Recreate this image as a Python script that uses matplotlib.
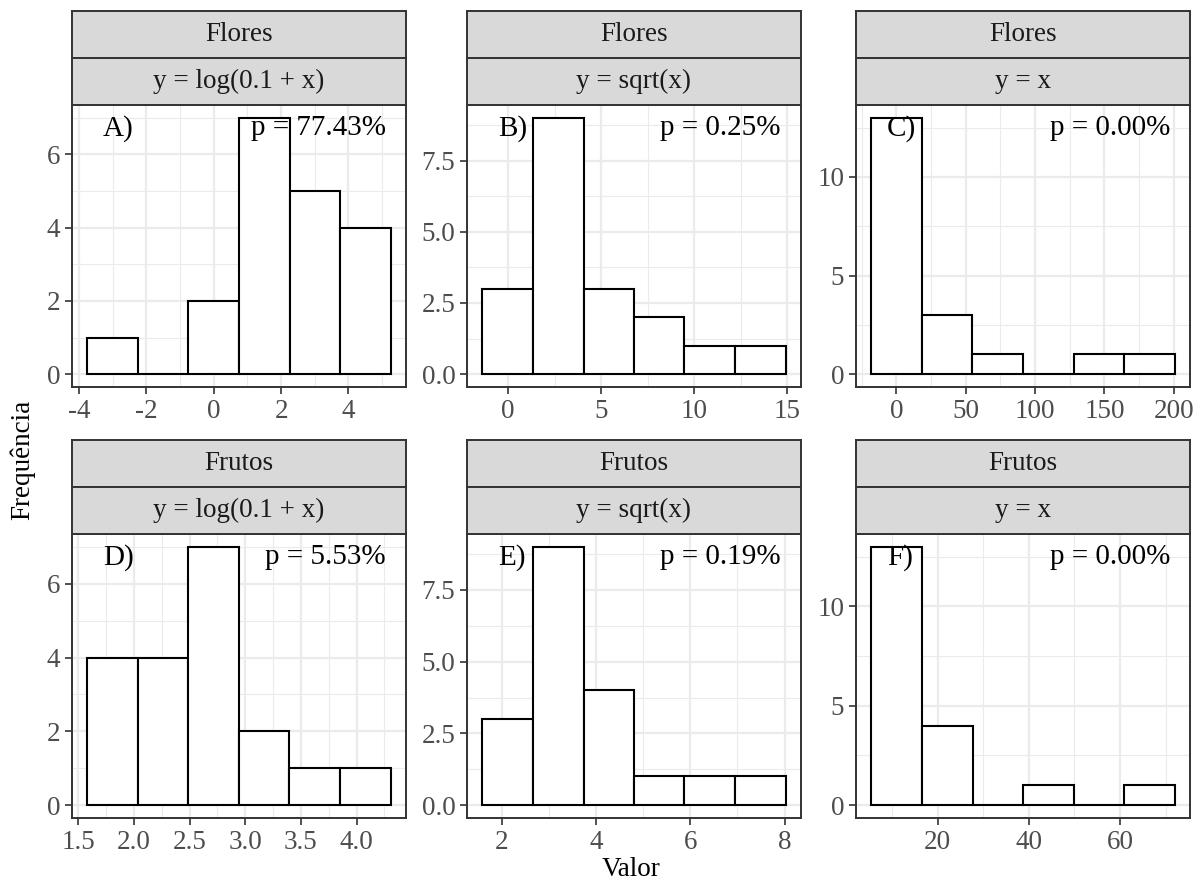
import matplotlib
matplotlib.use('Agg')
import matplotlib.pyplot as plt
import numpy as np
from matplotlib.ticker import MultipleLocator, FormatStrFormatter

plt.rcParams['font.family'] = ['Liberation Serif', 'DejaVu Serif']
plt.rcParams['axes.unicode_minus'] = False

# ---------------- data ----------------
groups = ["Flores", "Flores", "Flores", "Frutos", "Frutos", "Frutos"]
transforms = ["y = log(0.1 + x)", "y = sqrt(x)", "y = x",
              "y = log(0.1 + x)", "y = sqrt(x)", "y = x"]
letters = ["A)", "B)", "C)", "D)", "E)", "F)"]
p_labels = ["p = 77.43%", "p = 0.25%", "p = 0.00%",
            "p = 5.53%", "p = 0.19%", "p = 0.00%"]

edges_A = [-3.76, -2.25, -0.76, 0.75, 2.25, 3.74, 5.25]
counts_A = [1, 0, 2, 7, 5, 4]
edges_B = [-1.37, 1.35, 4.07, 6.76, 9.48, 12.19, 14.91]
counts_B = [3, 9, 3, 2, 1, 1]
edges_C = [-18.2, 18.3, 54.8, 91.3, 127.8, 164.3, 200.8]
counts_C = [13, 3, 1, 0, 1, 1]
edges_D = [1.578, 2.034, 2.488, 2.943, 3.396, 3.849, 4.306]
counts_D = [4, 4, 7, 2, 1, 1]
edges_E = [1.59, 2.67, 3.74, 4.80, 5.87, 6.95, 8.02]
counts_E = [3, 9, 4, 1, 1, 1]
edges_F = [5.45, 16.6, 27.7, 38.8, 49.8, 60.9, 72.0]
counts_F = [13, 4, 0, 1, 0, 1]

all_edges = [edges_A, edges_B, edges_C, edges_D, edges_E, edges_F]
all_counts = [counts_A, counts_B, counts_C, counts_D, counts_E, counts_F]

x_steps = [2, 5, 50, 0.5, 2, 20]
y_steps = [2, 2.5, 5, 2, 2.5, 5]
x_fmts = ['%g', '%g', '%g', '%.1f', '%g', '%g']
y_fmts = ['%g', '%.1f', '%g', '%g', '%.1f', '%g']

x_label = "Valor"
y_label = "Frequência"

# ---------------- layout ----------------
W, H = 1203, 884
fig = plt.figure(figsize=(W / 100, H / 100), dpi=100)
px = 0.72  # points per pixel

col_x = [(72, 405.7), (467.3, 800.7), (856, 1190)]
row_panel_y = [(105, 387), (534, 818)]
row_strip1_y = [(11, 58), (440, 487)]
row_strip2_y = [(58, 105), (487, 534)]

FS = 19.5
FS_ANN = 21
DARK = '#333333'
TXT = '#4D4D4D'
BORDER_LW = 1.4


def rect(x0, x1, y0, y1):
    return [x0 / W, 1 - y1 / H, (x1 - x0) / W, (y1 - y0) / H]


def strip(x0, x1, y0, y1, label):
    s = fig.add_axes(rect(x0, x1, y0, y1))
    s.set_facecolor('#D9D9D9')
    s.set_xticks([])
    s.set_yticks([])
    for sp in s.spines.values():
        sp.set_color(DARK)
        sp.set_linewidth(BORDER_LW)
    s.text(0.5, 0.5, label, ha='center', va='center', fontsize=FS,
           color='#1A1A1A', transform=s.transAxes)


for i in range(6):
    r, c = divmod(i, 3)
    x0, x1 = col_x[c]
    y0, y1 = row_panel_y[r]
    ax = fig.add_axes(rect(x0, x1, y0, y1))
    e = np.array(all_edges[i])
    cnt = np.array(all_counts[i])
    ax.set_axisbelow(True)
    ax.bar(e[:-1], cnt, width=np.diff(e), align='edge', facecolor='white',
           edgecolor='black', linewidth=1.5, zorder=2)
    rng = e[-1] - e[0]
    ax.set_xlim(e[0] - 0.05 * rng, e[-1] + 0.05 * rng)
    ym = cnt.max()
    ax.set_ylim(-0.05 * ym, 1.05 * ym)

    ax.xaxis.set_major_locator(MultipleLocator(x_steps[i]))
    ax.xaxis.set_minor_locator(MultipleLocator(x_steps[i] / 2))
    ax.yaxis.set_major_locator(MultipleLocator(y_steps[i]))
    ax.yaxis.set_minor_locator(MultipleLocator(y_steps[i] / 2))
    ax.xaxis.set_major_formatter(FormatStrFormatter(x_fmts[i]))
    ax.yaxis.set_major_formatter(FormatStrFormatter(y_fmts[i]))

    ax.grid(which='major', color='#EBEBEB', linewidth=1.6, zorder=0)
    ax.grid(which='minor', color='#EBEBEB', linewidth=0.8, zorder=0)
    ax.tick_params(which='major', length=5, width=1.2, color=DARK,
                   labelsize=FS, labelcolor=TXT, pad=3.5)
    ax.tick_params(which='minor', length=0)
    for sp in ax.spines.values():
        sp.set_color(DARK)
        sp.set_linewidth(BORDER_LW)
        sp.set_zorder(3)

    ax.annotate(letters[i], xy=(0, 1), xycoords='axes fraction',
                xytext=(31 * px, -10 * px), textcoords='offset points',
                ha='left', va='top', fontsize=FS_ANN, color='black', zorder=5)
    ax.annotate(p_labels[i], xy=(1, 1), xycoords='axes fraction',
                xytext=(-20 * px, -10 * px), textcoords='offset points',
                ha='right', va='top', fontsize=FS_ANN, color='black', zorder=5)

    strip(x0, x1, *row_strip1_y[r], groups[i])
    strip(x0, x1, *row_strip2_y[r], transforms[i])

fig.text(23 / W, 1 - 460 / H, y_label, rotation=90, ha='center', va='center',
         fontsize=FS, color='black')
fig.text(631 / W, 1 - 869 / H, x_label, ha='center', va='center',
         fontsize=FS, color='black')

fig.savefig('out.png', dpi=100, facecolor='white')
